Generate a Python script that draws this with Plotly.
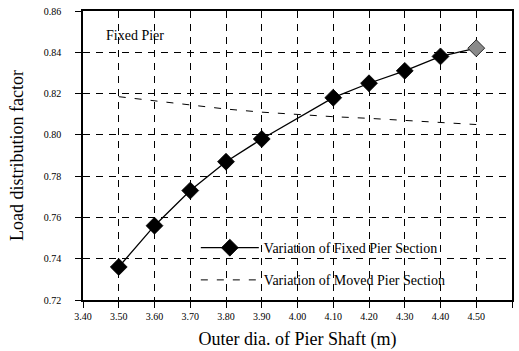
import plotly.graph_objects as go

# Outer diameter of pier shaft (m)
dia_fixed = [3.50, 3.60, 3.70, 3.80, 3.90, 4.10, 4.20, 4.30, 4.40, 4.50]
ldf_fixed = [0.736, 0.756, 0.773, 0.787, 0.798, 0.818, 0.825, 0.831, 0.838, 0.842]

dia_moved = [3.50, 3.60, 3.70, 3.80, 3.90, 4.00, 4.10, 4.20, 4.30, 4.40, 4.50]
ldf_moved = [0.8185, 0.8165, 0.8143, 0.8125, 0.8110, 0.8098, 0.8088, 0.8080, 0.8070, 0.8060, 0.8050]

x_ticks = [3.40, 3.50, 3.60, 3.70, 3.80, 3.90, 4.00, 4.10, 4.20, 4.30, 4.40, 4.50, 4.60]
y_ticks = [0.72, 0.74, 0.76, 0.78, 0.80, 0.82, 0.84, 0.86]

serif = "Liberation Serif, Times New Roman, serif"

marker_colors = ["black"] * (len(dia_fixed) - 1) + ["#8a8a8a"]

fig = go.Figure()
fig.add_trace(go.Scatter(
    x=dia_fixed, y=ldf_fixed, mode="lines+markers",
    name="Variation of Fixed Pier Section", legendgroup="fixed",
    line=dict(color="black", width=1.3),
    marker=dict(symbol="diamond", size=13, color=marker_colors,
                line=dict(color="black", width=0.8)),
))
fig.add_trace(go.Scatter(
    x=dia_moved, y=ldf_moved, mode="lines",
    name="Variation of Moved Pier Section", legendgroup="moved",
    line=dict(color="black", width=1, dash="7px,9px"),
))

axis_common = dict(
    showline=True, linecolor="black", linewidth=1.5, mirror=True,
    ticks="outside", ticklen=6, tickcolor="black", tickwidth=1.2,
    showgrid=True, gridcolor="black", gridwidth=1, griddash="7px,6px",
    zeroline=False, automargin=False,
    tickfont=dict(family=serif, size=10, color="black"),
    title_font=dict(family=serif, size=18, color="black"),
)

fig.update_xaxes(
    range=[3.40, 4.60], tickvals=x_ticks,
    ticktext=[f"{v:.2f}" for v in x_ticks],
    title_text="Outer dia. of Pier Shaft (m)", title_standoff=12,
    **axis_common,
)
fig.update_yaxes(
    range=[0.72, 0.86], tickvals=y_ticks,
    ticktext=[f"{v:.2f}" for v in y_ticks],
    ticklabelstandoff=12,
    title_text="Load distribution factor", title_standoff=15,
    **axis_common,
)

fig.add_annotation(
    x=3.545, y=0.848, xref="x", yref="y", text="Fixed Pier",
    showarrow=False, xanchor="center", yanchor="middle",
    font=dict(family=serif, size=14, color="black"),
)

fig.update_layout(
    width=519, height=351,
    margin=dict(l=83, r=7, t=11, b=51),
    paper_bgcolor="white", plot_bgcolor="white",
    showlegend=True,
    legend=dict(
        x=0.263, y=0.235, xanchor="left", yanchor="top",
        bgcolor="rgba(0,0,0,0)", borderwidth=0,
        font=dict(family=serif, size=14, color="black"),
        itemwidth=58, tracegroupgap=11,
    ),
)

fig.write_html("out.html")
